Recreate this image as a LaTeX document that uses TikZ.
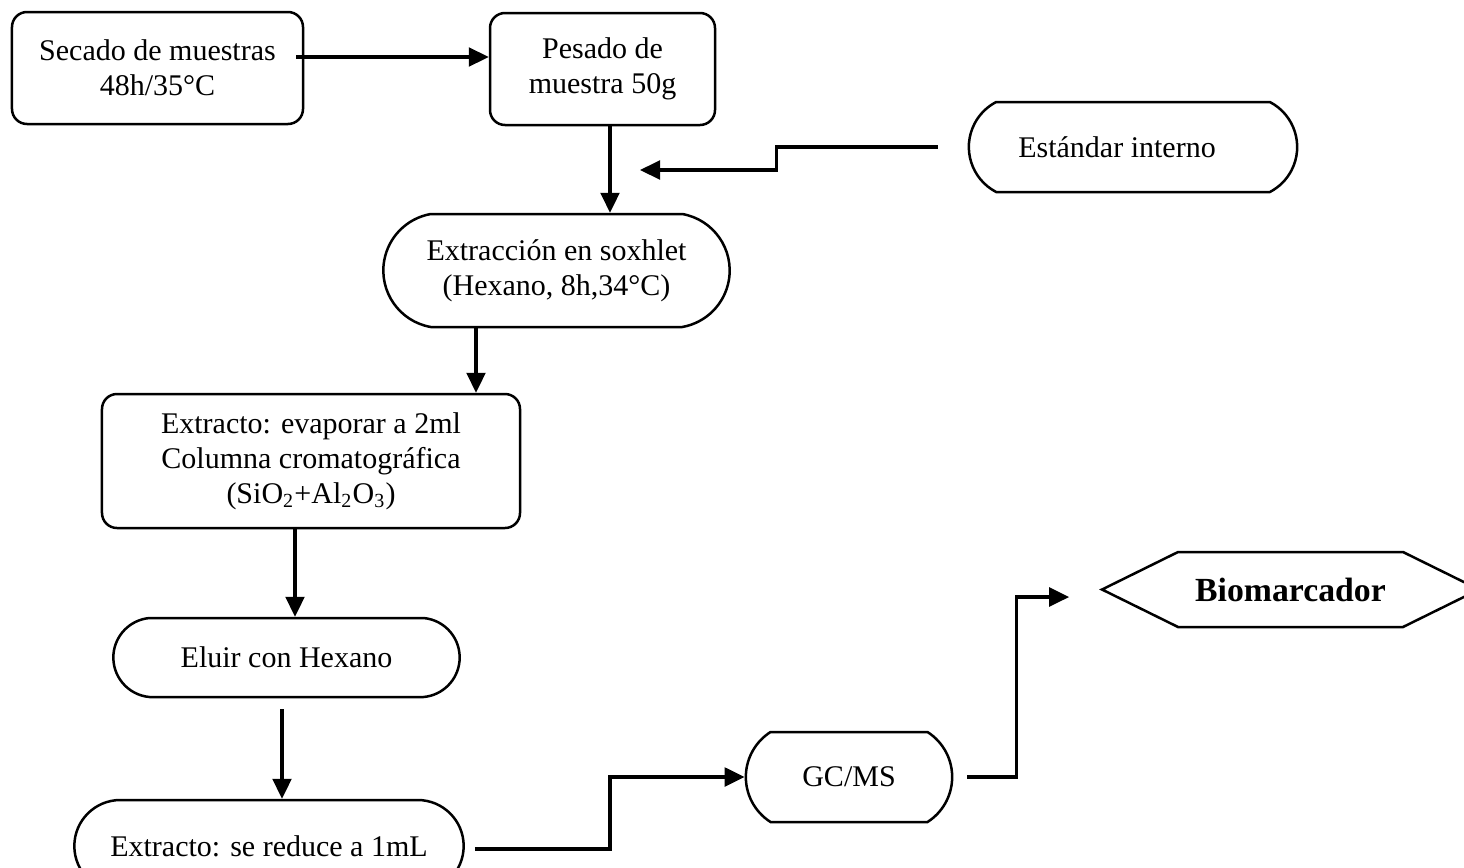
\documentclass[tikz,border=0pt]{standalone}
\usepackage{fontspec}
\setmainfont{Liberation Serif}
\usepackage{tikz}
\usetikzlibrary{shapes.misc, shapes.symbols, arrows.meta}
\tikzset{
    caja/.style={draw, line width=1pt, rounded corners=6pt, align=center, font=\fontsize{12}{14}\selectfont},
    ovalo/.style={draw, line width=1pt, rounded rectangle, align=center, font=\fontsize{12}{14}\selectfont},
    flecha/.style={line width=1.3pt, -{Triangle[length=8pt,width=7.5pt]}}
}

\begin{document}
\begin{tikzpicture}[x=0.4pt, y=-0.4pt]
    % Hoja completa
    \useasboundingbox (0,0) rectangle (1464,867);
    % Pasos del proceso
    \node[caja, minimum width=116.4pt, minimum height=44.8pt] (secado) at (157.5,68) {Secado de muestras\\48h/35°C};
    \node[caja, minimum width=90pt, minimum height=44.8pt] (pesado) at (602.5,69) {Pesado de\\muestra 50g};
    \node[ovalo, rounded rectangle arc length=125, minimum width=138pt, minimum height=36pt] (estandar) at (1133,147) {Estándar interno\hspace*{12.8pt}};
    \node[ovalo, rounded rectangle arc length=160, minimum width=145.2pt, minimum height=45.2pt] (extraccion) at (556.5,270.5) {Extracción en soxhlet\\ (Hexano, 8h,34°C)};
    \node[caja, minimum width=167.2pt, minimum height=53.6pt] (extracto) at (311,461) {Extracto: evaporar a 2ml\\Columna cromatográfica\\(SiO\textsubscript{2}+Al\textsubscript{2}O\textsubscript{3})};
    \node[ovalo, rounded rectangle arc length=170, minimum width=145.2pt, minimum height=31.6pt] (eluir) at (286.5,657.5) {Eluir con Hexano};
    \node[ovalo, minimum width=162.4pt, minimum height=36.8pt] (reduce) at (269,846) {Extracto: se reduce a 1mL};
    \node[ovalo, rounded rectangle arc length=115, minimum width=89.2pt, minimum height=36pt] (gcms) at (849,777) {GC/MS};
    \node[draw, line width=1pt, signal, signal to=west and east, signal pointer angle=52.5,
        minimum width=150.8pt, minimum height=30pt, font=\bfseries\fontsize{13.5}{16}\selectfont] (bio) at (1290.5,589.5) {Biomarcador};
    % Extremos libres
    \coordinate (e1) at (640,170);
    \coordinate (e2) at ([xshift=-12pt,yshift=-3pt]bio.west);
    % Flechas
    \draw[flecha] ([xshift=-3.2pt,yshift=4.4pt]secado.east) coordinate (s1) -- (s1 -| pesado.west);
    \draw[flecha] ([xshift=3pt]pesado.south) coordinate (s2) -- (s2 |- extraccion.north);
    \draw[flecha] ([xshift=-12pt]estandar.west) -- ++(-161,0) |- (e1);
    \draw[flecha] ([xshift=-32.2pt]extraccion.south) coordinate (s3) -- (s3 |- extracto.north);
    \draw[flecha] ([xshift=-6.4pt]extracto.south) coordinate (s4) -- (s4 |- eluir.north);
    \draw[flecha] ([xshift=-1.8pt,yshift=-4.4pt]eluir.south) coordinate (s5) -- (s5 |- reduce.north);
    \draw[flecha] ([xshift=4pt,yshift=-1.2pt]reduce.east) -- ++(135,0) |- (gcms.west);
    \draw[flecha] ([xshift=5.6pt]gcms.east) -- ++(49,0) |- (e2);
\end{tikzpicture}
\end{document}
